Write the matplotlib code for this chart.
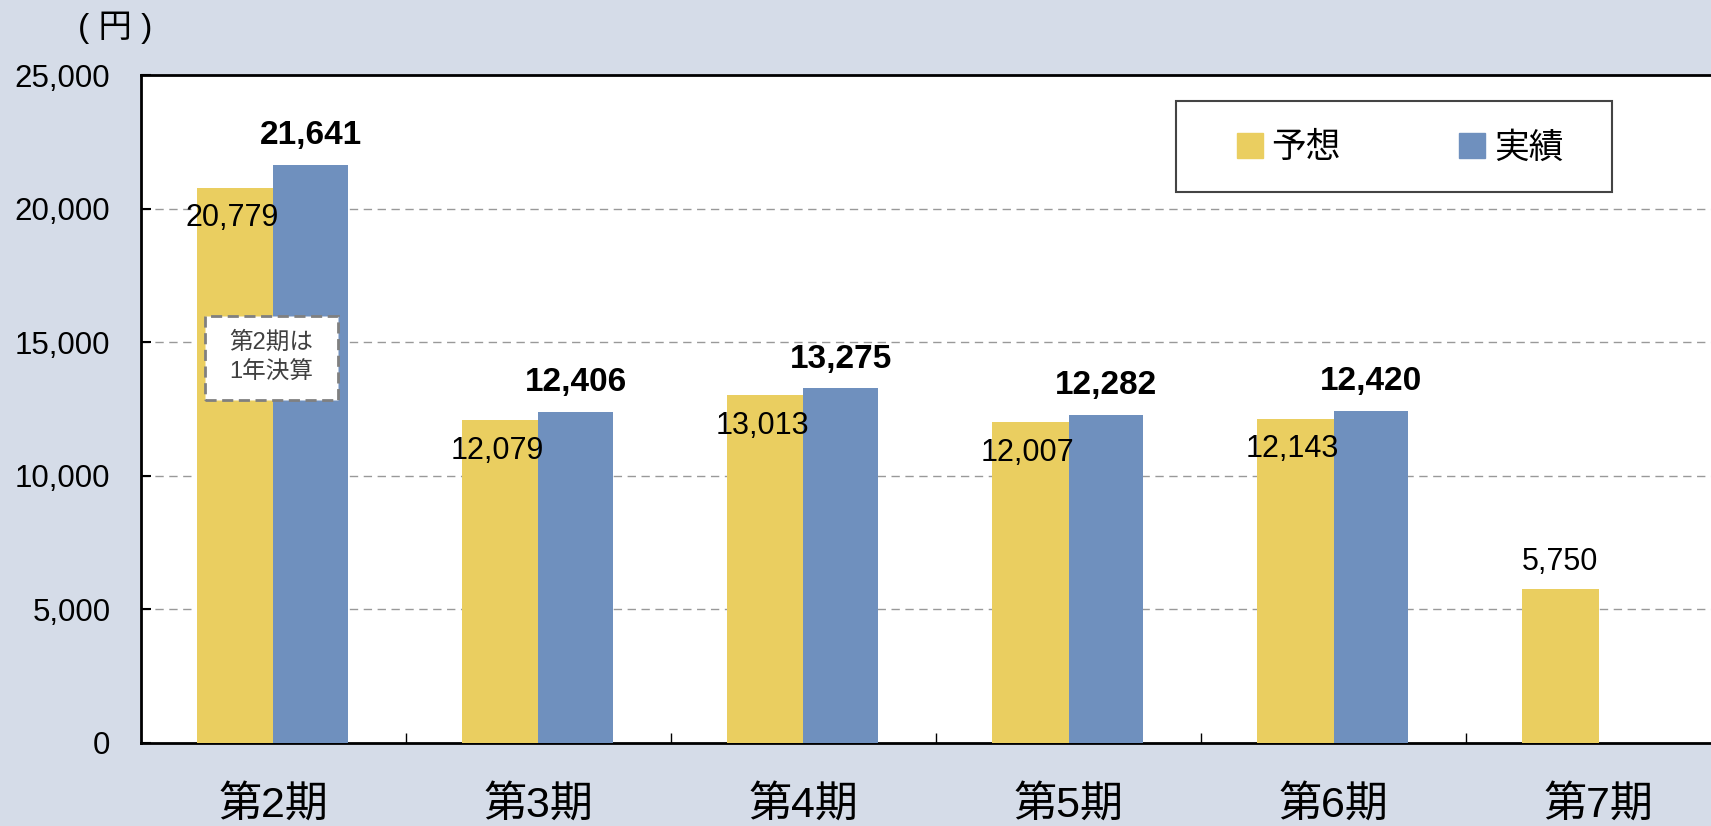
import numpy as np
import matplotlib
matplotlib.use("Agg")
import matplotlib.pyplot as plt
from matplotlib.patches import Patch, Rectangle
from matplotlib.ticker import FuncFormatter, FixedLocator

plt.rcParams['font.family'] = ['Liberation Sans', 'Noto Sans CJK JP', 'DejaVu Sans']

# data
periods = ['第2期', '第3期', '第4期', '第5期', '第6期', '第7期']
forecast = [20779, 12079, 13013, 12007, 12143, 5750]
actual = [21641, 12406, 13275, 12282, 12420]
series_names = ['予想', '実績']
note_text = '第2期は\n1年決算'
yticks = [0, 5000, 10000, 15000, 20000, 25000]

c_fc = '#EACE60'
c_ac = '#6F90BE'
bg = '#D5DCE8'

fig = plt.figure(figsize=(17.11, 8.26), dpi=100, facecolor=bg)
ax = fig.add_axes([0.0824, 0.1005, 0.9293, 0.8087])
ax.set_facecolor('white')

x = np.arange(len(periods))
ax.bar(x - 0.145, forecast, width=0.29, color=c_fc, zorder=3)
ax.bar(x[:len(actual)] + 0.14, actual, width=0.28, color=c_ac, zorder=3)

# value labels
for i, v in enumerate(forecast):
    if i < len(actual):
        ax.annotate(f'{v:,}', (i - 0.145, v), xytext=(-2, -22), textcoords='offset points',
                    ha='center', va='center', fontsize=22, zorder=5)
    else:
        ax.annotate(f'{v:,}', (i - 0.145, v), xytext=(0, 20), textcoords='offset points',
                    ha='center', va='center', fontsize=22, zorder=5)
for i, v in enumerate(actual):
    ax.annotate(f'{v:,}', (i + 0.14, v), xytext=(0, 21), textcoords='offset points',
                ha='center', va='center', fontsize=24, fontweight='bold', zorder=5)

# note box on 第2期
ax.add_patch(Rectangle((-0.258, 12840), 0.502, 3140, facecolor='white', edgecolor='#808080',
                       linestyle=(0, (4, 2)), linewidth=2, zorder=6))
ax.text(-0.007, 14420, note_text, ha='center', va='center', fontsize=17, color='#404040',
        linespacing=1.45, zorder=7)

ax.set_xlim(-0.5, len(periods) - 0.5)
ax.set_ylim(0, 25000)
ax.set_yticks(yticks)
ax.yaxis.set_major_formatter(FuncFormatter(lambda v, p: f'{int(v):,}'))
ax.tick_params(axis='y', direction='in', length=7, width=1.5, labelsize=22.5, pad=22)
for yv in yticks[1:-1]:
    ax.axhline(yv, color='#999999', linestyle=(0, (6, 4)), linewidth=1, zorder=1)

ax.set_xticks(x)
ax.set_xticklabels(periods, fontsize=31)
ax.xaxis.set_minor_locator(FixedLocator(x[:-1] + 0.5))
ax.tick_params(axis='x', which='major', length=0, pad=31)
ax.tick_params(axis='x', which='minor', direction='in', length=7, width=1)

for s in ['left', 'bottom', 'top']:
    ax.spines[s].set_linewidth(2)
    ax.spines[s].set_color('black')

# legend
fig.patches.append(Rectangle((0.6873, 0.7676), 0.2548, 0.1102, transform=fig.transFigure,
                             facecolor='white', edgecolor='#444444', linewidth=1.5, zorder=10))
handles = [Patch(color=c_fc, label=series_names[0]), Patch(color=c_ac, label=series_names[1])]
leg = fig.legend(handles=handles, loc='center', bbox_to_anchor=(1400 / 1711, 1 - 148 / 826),
                 ncol=2, frameon=False, fontsize=25, handlelength=0.75, handleheight=0.75,
                 handletextpad=0.25, columnspacing=3.4, borderpad=0)
leg.set_zorder(11)

fig.text(115 / 1711, 1 - 28 / 826, '( 円 )', ha='center', va='center', fontsize=24)

fig.savefig('out.png', dpi=100, facecolor=bg)
